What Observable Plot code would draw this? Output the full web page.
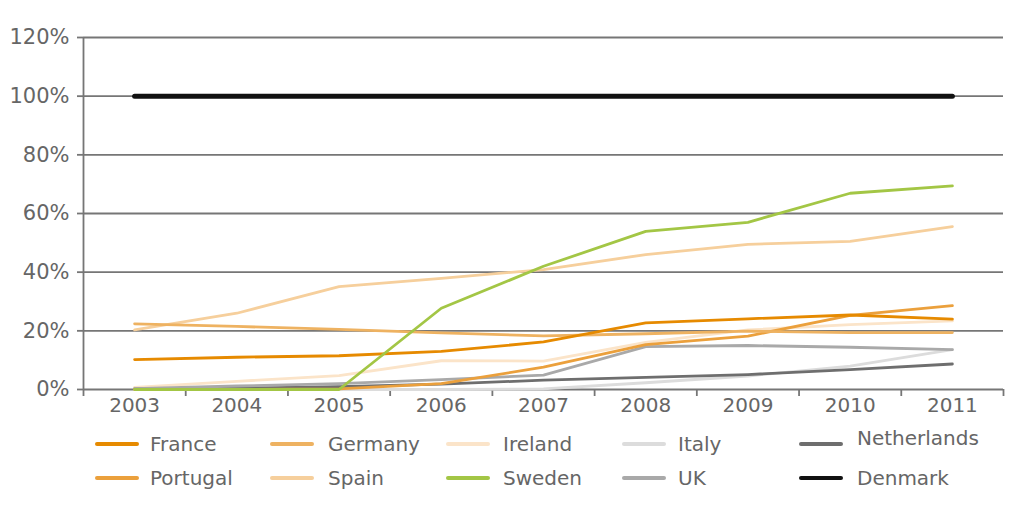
<!DOCTYPE html>
<html>
<head>
<meta charset="utf-8">
<script src="https://cdn.jsdelivr.net/npm/d3@7"></script>
<script src="https://cdn.jsdelivr.net/npm/@observablehq/plot@0.6"></script>
<style>
  html, body { margin: 0; padding: 0; background: #fff; }
  body { width: 1024px; height: 516px; overflow: hidden; font-family: "DejaVu Sans", Verdana, sans-serif; }
  #legend { position: relative; width: 1024px; height: 96px; }
  .sw { position: absolute; height: 4px; width: 44px; border-radius: 2px; }
  .lb { position: absolute; font-size: 20px; color: #666; line-height: 20px; white-space: nowrap; }
</style>
</head>
<body>
<div id="chart"></div>
<div id="legend"></div>
<script>
const years = [2003, 2004, 2005, 2006, 2007, 2008, 2009, 2010, 2011];
const France      = [10.2, 11.0, 11.5, 13.0, 16.2, 22.7, 24.1, 25.4, 24.0];
const Germany     = [22.4, 21.5, 20.5, 19.3, 18.3, 19.0, 19.9, 19.4, 19.4];
const Ireland     = [0.7, 2.8, 4.7, 9.8, 9.7, 16.1, 20.3, 22.1, 23.4];
const Italy       = [0, 0, 0, 0, 0.2, 2.3, 4.6, 8.0, 13.6];
const Netherlands = [0.2, 0.5, 1.0, 1.8, 3.2, 4.1, 5.1, 6.8, 8.7];
const Portugal    = [0, 0, 0.2, 2.0, 7.6, 15.3, 18.2, 25.3, 28.6];
const Spain       = [20.3, 26.0, 35.1, 37.9, 40.9, 46.0, 49.5, 50.5, 55.5];
const Sweden      = [0, 0, 0, 27.7, 42.0, 53.9, 57.0, 66.9, 69.4];
const UK          = [0.3, 1.2, 2.0, 3.4, 4.9, 14.6, 15.0, 14.4, 13.6];
const Denmark     = [100, 100, 100, 100, 100, 100, 100, 100, 100];
const yTicks = [0, 20, 40, 60, 80, 100, 120];

const seriesNames = ["France", "Germany", "Ireland", "Italy", "Netherlands",
                     "Portugal", "Spain", "Sweden", "UK", "Denmark"];
const seriesValues = [France, Germany, Ireland, Italy, Netherlands,
                      Portugal, Spain, Sweden, UK, Denmark];
const colors = {
  France: "#e68a00", Germany: "#eeb261", Ireland: "#fbe4c9", Italy: "#dcdcdc",
  Netherlands: "#6e6e6e", Portugal: "#eba03c", Spain: "#f6cf9c", Sweden: "#a3c645",
  UK: "#a9a9a9", Denmark: "#111111"
};
// drawing order (back to front)
const drawOrder = ["Italy", "Ireland", "Netherlands", "UK", "Portugal", "Spain", "Germany", "France", "Sweden", "Denmark"];

const rows = [];
for (const name of drawOrder) {
  const vals = seriesValues[seriesNames.indexOf(name)];
  years.forEach((yr, i) => rows.push({series: name, year: yr, value: vals[i]}));
}
const bounds = [years[0] - 0.5, ...years.map(y => y + 0.5)];

const lineMarks = drawOrder.map(name => Plot.line(rows.filter(d => d.series === name), {
  x: "year", y: "value",
  stroke: colors[name],
  strokeWidth: name === "Denmark" ? 5 : 2.8,
  strokeLinecap: "round", strokeLinejoin: "round"
}));

const chart = Plot.plot({
  width: 1024,
  height: 420,
  marginLeft: 83,
  marginRight: 21,
  marginTop: 37,
  marginBottom: 31,
  style: {fontFamily: "DejaVu Sans, Verdana, sans-serif", background: "#fff"},
  x: {type: "linear", domain: [bounds[0], bounds[bounds.length - 1]], axis: null},
  y: {type: "linear", domain: [0, 120], axis: null},
  marks: [
    Plot.ruleY(yTicks, {stroke: "#767676", strokeWidth: 1.8}),
    Plot.ruleX([bounds[0]], {stroke: "#767676", strokeWidth: 1.8}),
    Plot.axisX(bounds, {
      tickSize: 7, tickFormat: () => "", stroke: "#767676", strokeWidth: 1.8, label: null
    }),
    Plot.axisY(yTicks, {
      tickSize: 6, tickPadding: 8, stroke: "#767676", strokeWidth: 1.8,
      tickFormat: d => d + "%", fontSize: 21, fill: "#666", label: null
    }),
    Plot.axisX(years, {
      tickSize: 0, tickPadding: 8, tickFormat: d => String(d),
      fontSize: 20, fill: "#666", label: null
    }),
    ...lineMarks
  ]
});
document.getElementById("chart").appendChild(chart);

// legend
const swLeft = [95, 270, 446, 622, 799];
const lbLeft = [150, 328, 503, 678, 857];
const legend = document.getElementById("legend");
seriesNames.forEach((name, i) => {
  const col = i % 5, row = Math.floor(i / 5);
  const cy = row === 0 ? 24 : 58;
  const sw = document.createElement("div");
  sw.className = "sw";
  sw.style.left = swLeft[col] + "px";
  sw.style.top = (cy - 2) + "px";
  sw.style.background = colors[name];
  legend.appendChild(sw);
  const lb = document.createElement("div");
  lb.className = "lb";
  lb.textContent = name;
  lb.style.left = lbLeft[col] + "px";
  lb.style.top = (cy - 10 - (name === "Netherlands" ? 6 : 0)) + "px";
  legend.appendChild(lb);
});
</script>
</body>
</html>
